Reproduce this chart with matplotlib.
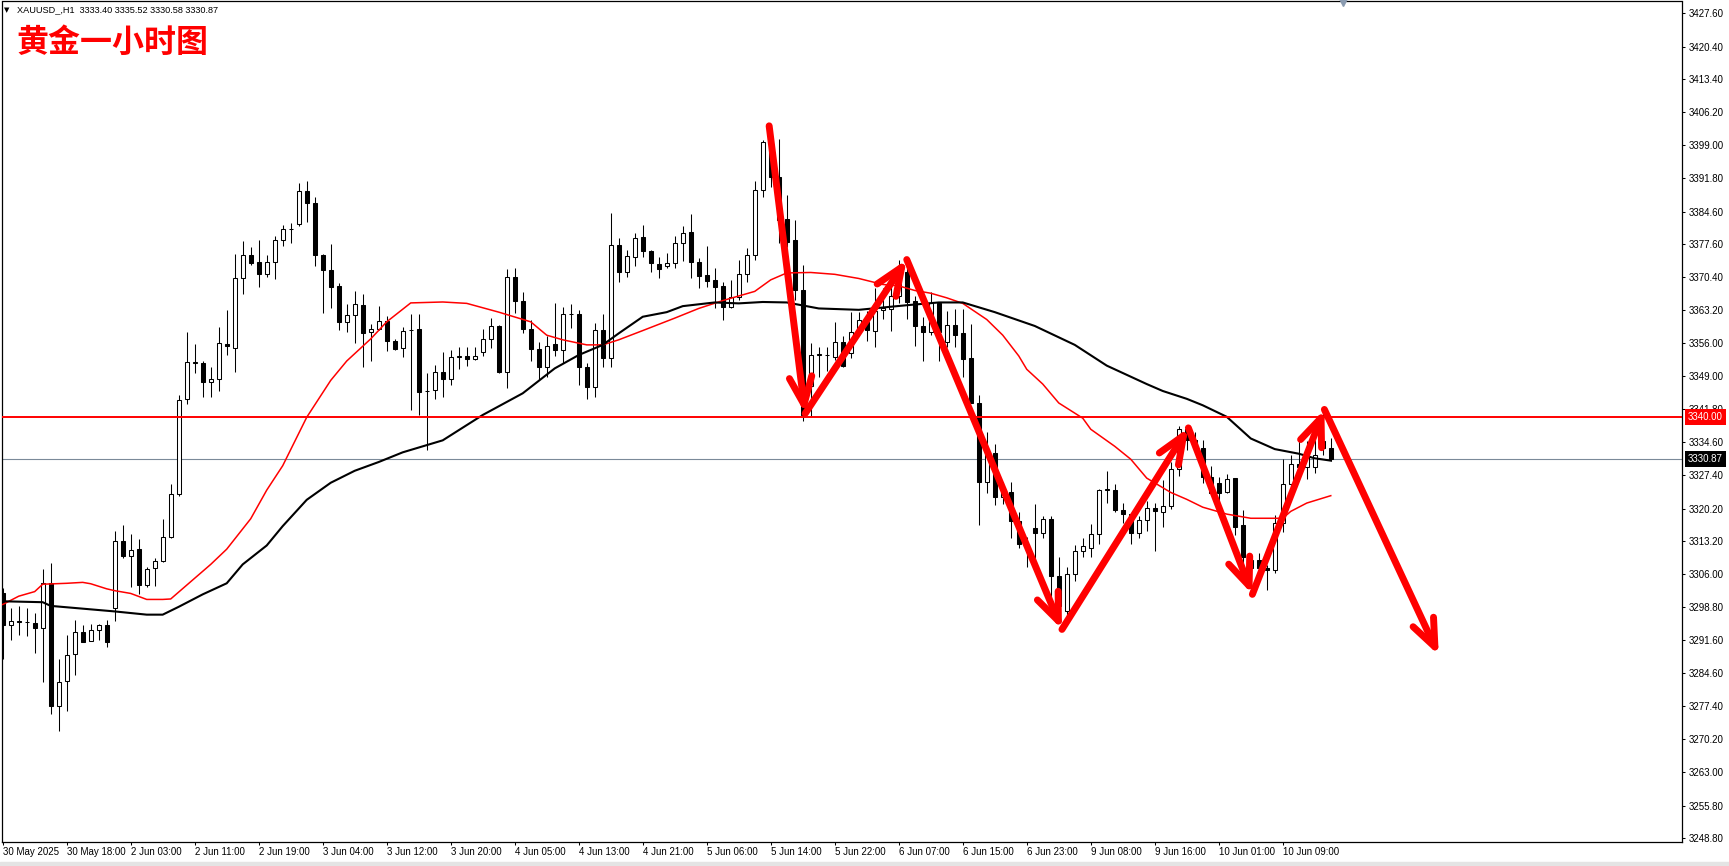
import numpy as np
import matplotlib
matplotlib.use('Agg')
import matplotlib.pyplot as plt
from matplotlib.patches import Rectangle

# XAUUSD H1 candles, 30 May 10:00 .. 10 Jun 15:00
opens = [3302.0, 3295.0, 3295.8, 3295.6, 3295.4, 3294.2, 3304.0, 3277.4, 3282.9, 3288.7,
         3293.4, 3291.5, 3293.9, 3295.0, 3298.7, 3313.1, 3310.0, 3311.4, 3303.6, 3307.3,
         3308.8, 3314.1, 3323.3, 3343.9, 3351.8, 3351.8, 3347.7, 3348.2, 3355.8, 3355.1,
         3370.1, 3375.2, 3373.6, 3371.1, 3373.6, 3378.5, 3380.8, 3381.9, 3389.0, 3386.4,
         3375.2, 3372.0, 3368.5, 3360.7, 3362.1, 3364.4, 3358.4, 3359.2, 3360.9, 3356.6,
         3355.1, 3358.9, 3359.1, 3345.6, 3345.9, 3349.9, 3348.2, 3353.1, 3353.2, 3352.6,
         3354.2, 3356.9, 3359.8, 3349.9, 3370.5, 3365.3, 3359.1, 3354.7, 3350.8, 3355.8,
         3354.5, 3362.3, 3362.5, 3350.8, 3346.5, 3358.9, 3352.8, 3377.4, 3371.6, 3374.7,
         3379.0, 3376.1, 3373.2, 3372.9, 3373.4, 3377.7, 3380.1, 3373.7, 3370.9, 3369.8,
         3368.5, 3364.0, 3366.0, 3371.0, 3375.2, 3389.2, 3399.4, 3392.0, 3382.9, 3378.4,
         3367.6, 3346.8, 3353.5, 3353.5, 3353.0, 3356.3, 3353.9, 3358.6, 3360.6, 3358.7,
         3363.3, 3363.5, 3366.3, 3371.6, 3365.3, 3359.8, 3358.6, 3364.7, 3356.3, 3360.0,
         3358.2, 3352.9, 3343.1, 3326.0, 3332.3, 3322.7, 3323.9, 3317.4, 3312.5, 3316.0,
         3315.0, 3318.0, 3305.6, 3298.0, 3306.0, 3310.9, 3311.7, 3314.7, 3324.3, 3324.2,
         3319.9, 3319.1, 3315.0, 3317.8, 3320.3, 3319.4, 3320.8, 3328.7, 3337.4, 3335.0,
         3333.4, 3327.1, 3325.7, 3323.7, 3326.8, 3316.7, 3307.3, 3309.1, 3307.3, 3306.9,
         3317.0, 3325.5, 3329.9, 3329.2, 3329.3, 3334.9, 3333.40]

highs = [3303.0, 3298.7, 3299.1, 3298.7, 3297.5, 3307.1, 3308.4, 3287.6, 3292.7, 3296.1,
         3295.0, 3295.2, 3295.2, 3296.0, 3315.3, 3316.6, 3314.7, 3313.6, 3307.5, 3309.4,
         3318.0, 3325.5, 3344.8, 3358.4, 3355.8, 3352.2, 3350.8, 3359.6, 3363.3, 3375.5,
         3378.2, 3377.0, 3378.5, 3375.1, 3379.3, 3381.6, 3382.2, 3390.7, 3391.3, 3387.8,
         3375.3, 3377.5, 3369.1, 3364.5, 3367.3, 3366.7, 3360.3, 3364.1, 3361.9, 3357.0,
         3359.6, 3362.3, 3362.3, 3349.6, 3351.4, 3354.2, 3354.5, 3355.2, 3355.2, 3355.2,
         3359.1, 3361.5, 3360.0, 3372.1, 3372.3, 3367.2, 3361.2, 3356.4, 3357.6, 3364.7,
         3364.0, 3364.6, 3363.3, 3351.7, 3360.5, 3362.3, 3384.4, 3378.9, 3376.3, 3380.0,
         3381.8, 3376.3, 3374.8, 3375.7, 3379.3, 3381.5, 3384.0, 3374.5, 3377.2, 3372.3,
         3369.4, 3369.8, 3374.1, 3376.6, 3391.3, 3400.1, 3401.5, 3400.3, 3388.3, 3382.8,
         3373.0, 3356.1, 3355.3, 3355.3, 3360.6, 3357.6, 3362.8, 3362.8, 3363.1, 3368.0,
         3368.0, 3370.0, 3374.1, 3374.1, 3366.3, 3361.8, 3367.1, 3365.1, 3363.1, 3363.5,
         3363.5, 3360.2, 3344.9, 3336.7, 3334.1, 3326.0, 3326.0, 3319.5, 3314.0, 3321.2,
         3318.6, 3318.6, 3309.7, 3307.6, 3312.3, 3313.8, 3316.9, 3324.5, 3328.3, 3325.6,
         3321.5, 3319.3, 3318.6, 3321.9, 3321.5, 3326.4, 3330.2, 3338.0, 3338.0, 3336.9,
         3335.1, 3329.5, 3327.1, 3327.7, 3326.8, 3319.9, 3309.8, 3310.5, 3308.0, 3318.8,
         3331.0, 3331.8, 3334.9, 3334.9, 3335.1, 3342.3, 3335.52]

lows = [3287.6, 3291.7, 3292.8, 3292.5, 3288.9, 3282.7, 3275.7, 3272.0, 3276.4, 3284.1,
        3291.2, 3291.4, 3291.7, 3290.1, 3295.8, 3309.4, 3303.2, 3301.6, 3303.2, 3303.4,
        3308.6, 3313.9, 3323.0, 3342.8, 3349.6, 3344.4, 3344.4, 3345.7, 3353.5, 3349.9,
        3366.8, 3373.0, 3368.3, 3370.5, 3369.9, 3377.1, 3377.8, 3381.5, 3382.3, 3372.8,
        3362.7, 3363.8, 3359.0, 3358.5, 3356.0, 3350.8, 3352.2, 3359.0, 3354.3, 3354.5,
        3353.1, 3341.5, 3340.6, 3333.0, 3343.9, 3344.5, 3347.0, 3350.4, 3351.2, 3352.4,
        3353.2, 3355.0, 3349.5, 3346.3, 3362.7, 3358.2, 3352.1, 3348.1, 3348.8, 3353.3,
        3351.7, 3359.3, 3347.0, 3343.9, 3344.5, 3351.0, 3351.0, 3369.4, 3370.5, 3372.7,
        3374.8, 3371.6, 3370.3, 3372.3, 3372.3, 3373.8, 3370.3, 3368.0, 3368.3, 3363.6,
        3361.1, 3363.6, 3365.4, 3369.4, 3374.1, 3387.8, 3390.0, 3377.7, 3377.0, 3365.4,
        3339.3, 3340.2, 3348.8, 3350.0, 3352.5, 3350.8, 3352.9, 3357.8, 3356.5, 3355.3,
        3361.4, 3358.7, 3364.7, 3361.4, 3355.5, 3352.2, 3357.8, 3352.1, 3355.3, 3355.3,
        3348.8, 3343.0, 3316.6, 3323.5, 3320.9, 3321.1, 3313.8, 3311.7, 3307.6, 3309.3,
        3313.8, 3300.7, 3298.3, 3296.6, 3304.4, 3309.7, 3309.7, 3312.5, 3321.5, 3319.5,
        3317.0, 3312.5, 3313.8, 3315.4, 3311.0, 3316.2, 3320.1, 3327.3, 3333.0, 3332.5,
        3325.7, 3323.2, 3321.7, 3323.5, 3314.5, 3307.6, 3301.9, 3304.7, 3302.6, 3306.3,
        3315.2, 3324.6, 3326.6, 3326.6, 3328.0, 3331.8, 3330.58]

closes = [3295.0, 3295.8, 3295.6, 3295.5, 3294.2, 3304.0, 3277.4, 3282.7, 3288.4, 3293.4,
          3291.3, 3293.9, 3295.0, 3291.2, 3313.1, 3310.0, 3311.3, 3303.6, 3307.2, 3308.8,
          3314.1, 3323.3, 3343.7, 3351.9, 3352.0, 3347.7, 3348.2, 3356.0, 3355.4, 3370.1,
          3375.2, 3373.4, 3371.1, 3373.6, 3378.5, 3380.8, 3380.9, 3389.0, 3386.4, 3375.2,
          3372.0, 3368.3, 3360.7, 3362.1, 3364.5, 3358.2, 3359.2, 3360.9, 3356.6, 3354.9,
          3358.8, 3359.0, 3345.5, 3345.8, 3349.9, 3348.2, 3353.1, 3353.2, 3352.6, 3353.2,
          3356.9, 3359.7, 3349.9, 3370.5, 3365.3, 3359.1, 3354.7, 3350.8, 3355.5, 3354.5,
          3362.3, 3362.5, 3350.8, 3346.5, 3358.9, 3352.8, 3377.4, 3371.4, 3375.0, 3378.8,
          3376.1, 3373.4, 3372.1, 3373.4, 3377.7, 3380.0, 3373.7, 3370.7, 3369.6, 3368.3,
          3364.0, 3366.0, 3371.0, 3375.2, 3389.3, 3399.6, 3392.0, 3382.8, 3378.1, 3367.6,
          3340.5, 3353.5, 3353.6, 3353.4, 3356.3, 3351.2, 3358.4, 3361.0, 3359.0, 3363.1,
          3363.6, 3366.3, 3371.6, 3365.1, 3359.8, 3358.6, 3364.7, 3358.6, 3360.0, 3357.9,
          3352.7, 3343.1, 3326.0, 3332.3, 3322.7, 3323.9, 3317.4, 3312.5, 3312.0, 3315.0,
          3318.0, 3305.6, 3299.1, 3306.0, 3310.9, 3312.1, 3314.7, 3324.2, 3324.4, 3319.9,
          3319.1, 3315.0, 3317.8, 3320.3, 3319.6, 3320.8, 3328.7, 3337.4, 3335.0, 3333.4,
          3327.1, 3323.5, 3323.5, 3326.6, 3316.3, 3309.8, 3309.1, 3307.3, 3306.9, 3317.0,
          3325.5, 3329.9, 3329.2, 3332.2, 3331.8, 3333.3, 3330.87]

# red (fast) moving average, read at bar positions
red_ma_x = [0, 2, 4, 5, 8, 10, 11, 13, 14, 16, 18, 20, 21, 23, 26, 28, 31, 33, 35, 38,
            41, 43, 46, 48, 51, 55, 58, 62, 66, 68, 70, 73, 75, 77, 80, 84, 87, 90, 92, 94,
            96, 98, 101, 104, 107, 110, 112, 114, 116, 118, 120, 123, 125, 127, 128, 130,
            132, 135, 136, 139, 141, 143, 146, 148, 150, 153, 156, 160, 161, 163, 166]
red_ma_y = [3299.4, 3301.2, 3302.2, 3303.8, 3304.0, 3304.2, 3303.9, 3302.8, 3302.4, 3301.8,
            3300.5, 3300.5, 3300.6, 3303.6, 3308.1, 3311.4, 3318.0, 3324.2, 3329.5, 3340.0,
            3348.0, 3352.2, 3357.0, 3360.7, 3364.8, 3365.0, 3364.7, 3362.8, 3360.7, 3357.8,
            3356.8, 3355.7, 3355.7, 3356.8, 3358.8, 3361.5, 3363.6, 3365.3, 3366.3, 3367.3,
            3369.8, 3371.3, 3371.4, 3371.0, 3370.1, 3368.8, 3368.5, 3367.5, 3366.9, 3365.9,
            3364.7, 3361.2, 3357.8, 3353.3, 3350.4, 3347.2, 3343.1, 3339.8, 3337.4, 3333.7,
            3330.9, 3326.8, 3323.7, 3322.2, 3320.5, 3319.0, 3318.1, 3318.1, 3319.6, 3321.4,
            3323.0]

# black (slow) moving average
black_ma_x = [0, 5, 6, 10, 14, 18, 20, 22, 25, 28, 30, 33, 35, 38, 41, 44, 47, 50, 55, 60,
              65, 69, 72, 75, 77, 80, 83, 85, 89, 92, 95, 98, 102, 107, 113, 117, 120, 124,
              129, 134, 138, 143, 145, 148, 150, 153, 156, 159, 162, 164, 166]
black_ma_y = [3300.1, 3299.9, 3299.1, 3298.5, 3297.9, 3297.2, 3297.2, 3298.9, 3301.6, 3304.0,
              3308.1, 3312.2, 3316.4, 3322.1, 3325.8, 3328.4, 3330.3, 3332.4, 3335.0, 3340.5,
              3345.2, 3350.6, 3353.5, 3355.7, 3358.2, 3361.8, 3362.8, 3364.1, 3364.9, 3364.7,
              3365.0, 3364.9, 3363.6, 3363.3, 3364.3, 3364.9, 3364.9, 3362.8, 3359.8, 3355.7,
              3351.2, 3347.2, 3345.7, 3344.0, 3342.6, 3340.1, 3335.4, 3333.1, 3332.1, 3331.1,
              3330.6]

# hand drawn zigzag arrows (bar position, price)
arrow_x = [95.8, 100.3, 113.0, 132.4, 148.2, 156.2, 165.2, 179.5]
arrow_y = [3403.2, 3340.8, 3374.2, 3294.0, 3337.7, 3301.6, 3341.7, 3288.4]

time_labels = ['30 May 2025', '30 May 18:00', '2 Jun 03:00', '2 Jun 11:00', '2 Jun 19:00',
               '3 Jun 04:00', '3 Jun 12:00', '3 Jun 20:00', '4 Jun 05:00', '4 Jun 13:00',
               '4 Jun 21:00', '5 Jun 06:00', '5 Jun 14:00', '5 Jun 22:00', '6 Jun 07:00',
               '6 Jun 15:00', '6 Jun 23:00', '9 Jun 08:00', '9 Jun 16:00', '10 Jun 01:00',
               '10 Jun 09:00']
price_ticks = [3427.60, 3420.40, 3413.40, 3406.20, 3399.00, 3391.80, 3384.60, 3377.60,
               3370.40, 3363.20, 3356.00, 3349.00, 3341.80, 3334.60, 3327.40, 3320.20,
               3313.20, 3306.00, 3298.80, 3291.60, 3284.60, 3277.40, 3270.20, 3263.00,
               3255.80, 3248.80]
support_level = 3340.00
last_price = 3330.87


plt.rcParams['font.family'] = ['Liberation Sans', 'DejaVu Sans']

W, H = 1729, 866
fig = plt.figure(figsize=(W / 100, H / 100), dpi=100)
ax = fig.add_axes([1.5 / W, 24 / H, 1680.5 / W, 840.5 / H])

o = np.array(opens)
h = np.array(highs)
l = np.array(lows)
c = np.array(closes)
x = np.arange(len(o))

#wicks then bodies (white = up, black = down)
ax.vlines(x, l, h, color='black', lw=0.75, zorder=2)
up = c >= o
body_bottom = np.minimum(o, c)
body_h = np.maximum(np.abs(c - o), 0.12)
ax.bar(x, body_h, bottom=body_bottom, width=0.55,
       color=np.where(up, 'white', 'black'), edgecolor='black', linewidth=0.75, zorder=3)

#moving averages
ax.plot(red_ma_x, red_ma_y, color='red', lw=1.1, zorder=4)
ax.plot(black_ma_x, black_ma_y, color='black', lw=1.5, zorder=4)

#horizontal lines
ax.axhline(support_level, color='red', lw=1.4, zorder=4)
ax.axhline(last_price, color='#7b8a99', lw=0.8, zorder=1.5)

#zigzag arrows
for k in range(len(arrow_x) - 1):
    ax.annotate('', xy=(arrow_x[k + 1], arrow_y[k + 1]), xytext=(arrow_x[k], arrow_y[k]),
                arrowprops=dict(arrowstyle='->,head_length=1.1,head_width=0.45',
                                color='red', lw=5, shrinkA=0, shrinkB=0,
                                mutation_scale=18),
                zorder=6, annotation_clip=False)

#axis limits and ticks
ax.set_xlim(-0.15, 209.9)
ax.set_ylim(3247.9, 3430.16)

ax.yaxis.tick_right()
ax.set_yticks(price_ticks)
ax.set_yticklabels(['%.2f' % v for v in price_ticks])
ax.set_xticks(np.arange(len(time_labels)) * 8)
ax.set_xticklabels(time_labels, ha='left')
ax.tick_params(axis='y', direction='out', length=2.5, width=0.75, pad=2.5, labelsize=7)
ax.tick_params(axis='x', direction='out', length=2.5, width=0.75, pad=1.2, labelsize=7)
for s in ax.spines.values():
    s.set_color('black')
    s.set_linewidth(0.9)

#price boxes on the right
ax.annotate('%.2f' % support_level, xy=(1, support_level), xycoords=('axes fraction', 'data'),
            xytext=(4.3, 0), textcoords='offset points', ha='left', va='center',
            color='white', fontsize=7,
            bbox=dict(boxstyle='square,pad=0.3', fc='red', ec='none'),
            annotation_clip=False, zorder=10)
ax.annotate('%.2f' % last_price, xy=(1, last_price), xycoords=('axes fraction', 'data'),
            xytext=(4.3, 0), textcoords='offset points', ha='left', va='center',
            color='white', fontsize=7,
            bbox=dict(boxstyle='square,pad=0.3', fc='black', ec='none'),
            annotation_clip=False, zorder=10)

#little shift marker on the top edge
ax.plot([167.5], [3430.16], marker='v', color='#8a9bb0', ms=6, clip_on=False, zorder=7)

#header texts
fig.text(4 / W, 1 - 10 / H, '\u25bc', fontsize=5, family='DejaVu Sans', va='center')
fig.text(17 / W, 1 - 10 / H, 'XAUUSD_,H1  3333.40 3335.52 3330.58 3330.87',
         fontsize=6.6, va='center', ha='left')
fig.text(16 / W, 1 - 43 / H, '黄金一小时图', fontsize=23, fontweight='bold', color='red',
         family=['Noto Sans CJK SC', 'DejaVu Sans'], va='center', ha='left')

#grey strip at the bottom
fig.patches.append(Rectangle((0, 0), 1, 4 / H, transform=fig.transFigure,
                             color='#e4e4e4', zorder=0))

fig.savefig('out.png', dpi=100)
